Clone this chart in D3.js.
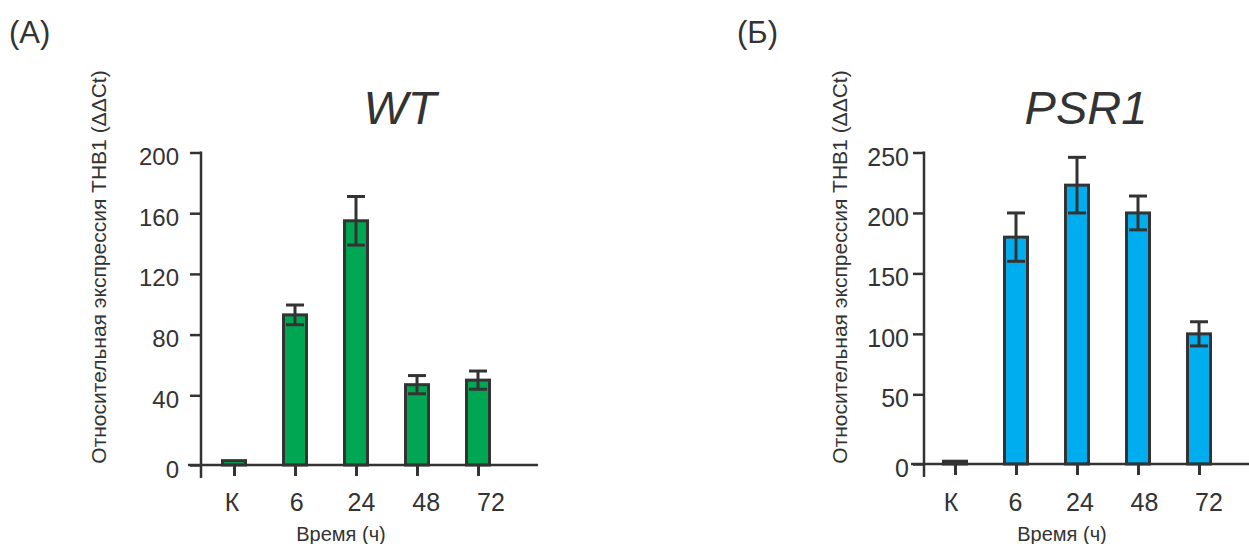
<!DOCTYPE html>
<html>
<head>
<meta charset="utf-8">
<script src="https://cdn.jsdelivr.net/npm/d3@7"></script>
<style>
  html, body { margin: 0; padding: 0; background: #fff; }
  svg { display: block; font-family: "Liberation Sans", Arial, Helvetica, sans-serif; }
</style>
</head>
<body>
<svg id="chart" width="1249" height="544"></svg>
<script>
// ---------------- data ----------------
const categories = ["К", "6", "24", "48", "72"];
const wtValues   = [2.5, 93, 155, 47, 50];
const wtErrors   = [0, 6.5, 16, 6, 6];
const psrValues  = [2, 180, 223, 200, 100];
const psrErrors  = [0, 20, 23, 14, 10];
const wtTicks    = [0, 40, 80, 120, 160, 200];
const psrTicks   = [0, 50, 100, 150, 200, 250];
const panelLetters = ["(А)", "(Б)"];
const panelTitles  = ["WT", "PSR1"];
const yLabel = "Относительная экспрессия THB1 (ΔΔCt)";
const xLabel = "Время (ч)";

// ---------------- drawing ----------------
const svg = d3.select("#chart");
const ink = "#333333";

function drawPanel(cfg) {
  const g = svg.append("g");
  // piecewise y scale (the reference axis has a gap between 0 and the first tick)
  const y = d3.scaleLinear()
    .domain([0, cfg.ticks[1], cfg.ticks[cfg.ticks.length - 1]])
    .range([cfg.base, cfg.brkPx, cfg.top]);
  const xBar = d3.scalePoint().domain(categories).range(cfg.barRange);
  const xLab = d3.scalePoint().domain(categories).range(cfg.labRange);

  // bars
  g.selectAll("rect.bar").data(cfg.values).join("rect")
    .attr("class", "bar")
    .attr("x", (d, i) => xBar(categories[i]) - 11.5)
    .attr("width", 23)
    .attr("y", d => y(d))
    .attr("height", d => y(0) - y(d))
    .attr("fill", cfg.color)
    .attr("stroke", ink)
    .attr("stroke-width", 3);

  // error bars
  const eb = g.selectAll("g.err").data(cfg.values.map((v, i) => ({v, e: cfg.errors[i], c: categories[i]})).filter(d => d.e > 0))
    .join("g").attr("class", "err")
    .attr("stroke", ink).attr("stroke-width", 3).attr("fill", "none");
  eb.append("line")
    .attr("x1", d => xBar(d.c)).attr("x2", d => xBar(d.c))
    .attr("y1", d => y(d.v + d.e)).attr("y2", d => y(d.v - d.e));
  eb.append("line")
    .attr("x1", d => xBar(d.c) - 9).attr("x2", d => xBar(d.c) + 9)
    .attr("y1", d => y(d.v + d.e)).attr("y2", d => y(d.v + d.e));
  eb.append("line")
    .attr("x1", d => xBar(d.c) - 9).attr("x2", d => xBar(d.c) + 9)
    .attr("y1", d => y(d.v - d.e)).attr("y2", d => y(d.v - d.e));

  // y axis
  const yAxis = d3.axisLeft(y).tickValues(cfg.ticks).tickSize(11).tickPadding(cfg.tickPad).tickSizeOuter(0);
  const ya = g.append("g").attr("transform", `translate(${cfg.axisX},0)`).call(yAxis);
  ya.select(".domain").remove();
  ya.selectAll(".tick line").attr("stroke", ink).attr("stroke-width", 2.5);
  ya.selectAll(".tick text").attr("fill", ink).attr("font-size", cfg.tickFont).attr("dy", "0.5em")
    .attr("font-family", "Liberation Sans, Arial, sans-serif");
  g.append("line")
    .attr("x1", cfg.axisX).attr("x2", cfg.axisX)
    .attr("y1", y(cfg.ticks[cfg.ticks.length - 1]) - 1).attr("y2", cfg.base + 13)
    .attr("stroke", ink).attr("stroke-width", 2.5);

  // x axis
  g.append("line")
    .attr("x1", cfg.axisX - 13).attr("x2", cfg.axisX + 337)
    .attr("y1", cfg.base).attr("y2", cfg.base)
    .attr("stroke", ink).attr("stroke-width", 2.5);
  const xAxis = d3.axisBottom(xBar).tickSize(11).tickFormat("");
  const xa = g.append("g").attr("transform", `translate(0,${cfg.base})`).call(xAxis);
  xa.select(".domain").remove();
  xa.selectAll(".tick line").attr("stroke", ink).attr("stroke-width", 3);

  // category labels
  g.selectAll("text.cat").data(categories).join("text")
    .attr("class", "cat")
    .attr("x", d => xLab(d)).attr("y", 511)
    .attr("text-anchor", "middle")
    .attr("font-size", 25).attr("fill", ink)
    .text(d => d);

  // x label
  g.append("text").attr("x", cfg.xLabX).attr("y", 541)
    .attr("text-anchor", "middle").attr("font-size", 20).attr("fill", ink)
    .text(xLabel);

  // y label
  g.append("text")
    .attr("transform", `translate(${cfg.yLabX},267) rotate(-90)`)
    .attr("text-anchor", "middle").attr("font-size", 21).attr("fill", ink)
    .text(yLabel);

  // title
  g.append("text").attr("x", cfg.titleX).attr("y", 124)
    .attr("text-anchor", "middle").attr("font-size", 47).attr("font-style", "italic").attr("fill", ink)
    .text(cfg.title);

  // panel letter
  g.append("text").attr("x", cfg.letterX).attr("y", 43)
    .attr("font-size", 31).attr("fill", ink)
    .text(cfg.letter);
}

drawPanel({
  values: wtValues, errors: wtErrors, ticks: wtTicks, color: "#00a651",
  base: 465, brkPx: 395.3, top: 152.5,
  axisX: 201, barRange: [234, 478], labRange: [232, 491],
  tickPad: 11, tickFont: 24, xLabX: 341, yLabX: 106,
  titleX: 400, title: panelTitles[0], letterX: 9, letter: panelLetters[0]
});
drawPanel({
  values: psrValues, errors: psrErrors, ticks: psrTicks, color: "#00aeef",
  base: 464, brkPx: 394.3, top: 152.5,
  axisX: 924, barRange: [955, 1199], labRange: [951, 1209],
  tickPad: 4, tickFont: 25, xLabX: 1062, yLabX: 847,
  titleX: 1086, title: panelTitles[1], letterX: 737, letter: panelLetters[1]
});
</script>
</body>
</html>
